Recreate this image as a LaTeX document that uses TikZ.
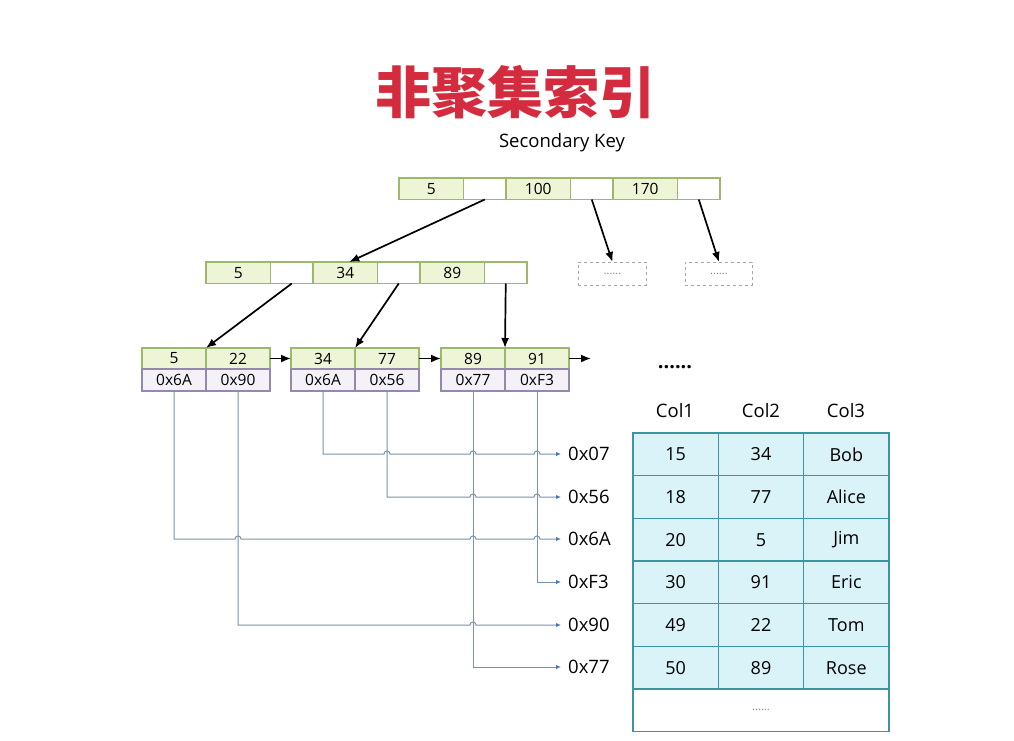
\documentclass[tikz,border=0pt]{standalone}
\usepackage{fontspec}
\setmainfont{Open Sans}
\newfontfamily\cjk{Noto Sans CJK SC}
\usetikzlibrary{arrows.meta,calc}
\definecolor{keyfill}{HTML}{EEF5D6}
\definecolor{keyline}{HTML}{9DB86A}
\definecolor{ptrfill}{HTML}{F4F1F8}
\definecolor{ptrline}{HTML}{9488AC}
\definecolor{wirec}{HTML}{7A93A8}
\definecolor{wtip}{HTML}{3B7CC4}
\definecolor{tfill}{HTML}{D9F3F8}
\definecolor{tline}{HTML}{3C95A3}
\definecolor{titlered}{HTML}{D42B3E}
\newcommand\hop[2]{-- ([xshift=-3pt]#1.south |- #2.west) .. controls +(0,-4) and +(0,-4) .. ([xshift=3pt]#1.south |- #2.west)}
\begin{document}
\begin{tikzpicture}[x=1pt,y=-1pt,
  cell/.style={draw, line width=1.1pt, inner sep=0pt, outer sep=0pt, anchor=north west, minimum height=21.5pt, font=\fontsize{15.5}{15.5}\selectfont},
  key/.style={cell, draw=keyline, fill=keyfill, minimum width=64.5pt},
  gap/.style={cell, draw=keyline, fill=white, minimum width=42.5pt},
  lkey/.style={cell, draw=keyline, fill=keyfill, minimum width=64pt, minimum height=21pt},
  lptr/.style={cell, draw=ptrline, fill=ptrfill, minimum width=64pt, minimum height=22pt},
  dbox/.style={draw=gray!70, dashed, line width=0.9pt, inner sep=0pt, anchor=north west, minimum height=23pt, text=gray, font=\fontsize{11}{11}\selectfont},
  tarrow/.style={-{Latex[length=10pt,width=8pt]}, line width=1.7pt},
  wire/.style={draw=wirec, line width=1pt, -{Latex[length=5pt,width=4.5pt,color=wtip]}, shorten >=7pt},
  addr/.style={anchor=west, inner sep=0pt, font=\fontsize{18.5}{18.5}\selectfont},
  tcell/.style={draw=tline, fill=tfill, line width=1.1pt, minimum width=85.33pt, minimum height=42.67pt, inner sep=0pt, outer sep=0pt, anchor=north west, font=\fontsize{18}{18}\selectfont},
  hdr/.style={font=\fontsize{18.5}{18.5}\selectfont}
]
\useasboundingbox (0,0) rectangle (1014,741);

% title
\node[font=\cjk\bfseries\fontsize{56}{56}\selectfont, text=titlered] (title) at (515,92) {非聚集索引};
\node[font=\fontsize{18.5}{18.5}\selectfont] (sk) at (562,143) {Secondary Key};

% root
\node[key] (r1) at (399,178) {5};
\node[gap] (r2) at (r1.north east) {};
\node[key] (r3) at (r2.north east) {100};
\node[gap] (r4) at (r3.north east) {};
\node[key] (r5) at (r4.north east) {170};
\node[gap] (r6) at (r5.north east) {};

% second level
\node[key] (s1) at (206,262) {5};
\node[gap] (s2) at (s1.north east) {};
\node[key] (s3) at (s2.north east) {34};
\node[gap] (s4) at (s3.north east) {};
\node[key] (s5) at (s4.north east) {89};
\node[gap] (s6) at (s5.north east) {};
\node[dbox, minimum width=68pt] (d1) at (578,262) {......};
\node[dbox, minimum width=67pt] (d2) at (685,262) {......};

% leaves
\node[lkey] (l1a) at (142,348) {5};
\node[lkey] (l1b) at (l1a.north east) {22};
\node[lptr] (l1c) at (l1a.south west) {0x6A};
\node[lptr] (l1d) at (l1b.south west) {0x90};
\node[lkey] (l2a) at (291,348) {34};
\node[lkey] (l2b) at (l2a.north east) {77};
\node[lptr] (l2c) at (l2a.south west) {0x6A};
\node[lptr] (l2d) at (l2b.south west) {0x56};
\node[lkey] (l3a) at (441,348) {89};
\node[lkey] (l3b) at (l3a.north east) {91};
\node[lptr] (l3c) at (l3a.south west) {0x77};
\node[lptr] (l3d) at (l3b.south west) {0xF3};
\coordinate (l3end) at ([xshift=22pt]l3b.east);
\node[font=\fontsize{20}{20}\selectfont\bfseries] (more) at (675,367) {......};

% tree arrows
\draw[tarrow] (r2.south) -- ([xshift=4pt]s3.north);
\draw[tarrow] (r4.south) -- (d1.north);
\draw[tarrow] (r6.south) -- (d2.north);
\draw[tarrow] (s2.south) -- (l1a.north east);
\draw[tarrow] (s4.south) -- (l2a.north east);
\draw[tarrow] (s6.south) -- (l3a.north east);
\draw[tarrow] (l1b.east) -- (l2a.west);
\draw[tarrow] (l2b.east) -- (l3a.west);
\draw[tarrow] (l3b.east) -- (l3end);

% address labels
\node[addr] (t1) at (568,454) {0x07};
\node[addr] (t2) at (568,497) {0x56};
\node[addr] (t3) at (568,539) {0x6A};
\node[addr] (t4) at (568,582) {0xF3};
\node[addr] (t5) at (568,625) {0x90};
\node[addr] (t6) at (568,667) {0x77};

% wires
\draw[wire] (l2c.south) -- (l2c.south |- t1.west) \hop{l2d}{t1} \hop{l3c}{t1} \hop{l3d}{t1} -- (t1.west);
\draw[wire] (l2d.south) -- (l2d.south |- t2.west) \hop{l3c}{t2} \hop{l3d}{t2} -- (t2.west);
\draw[wire] (l1c.south) -- (l1c.south |- t3.west) \hop{l1d}{t3} \hop{l3c}{t3} \hop{l3d}{t3} -- (t3.west);
\draw[wire] (l3d.south) -- (l3d.south |- t4.west) -- (t4.west);
\draw[wire] (l1d.south) -- (l1d.south |- t5.west) \hop{l3c}{t5} -- (t5.west);
\draw[wire] (l3c.south) -- (l3c.south |- t6.west) -- (t6.west);

% table
\node[hdr] (h1) at (675,411) {Col1};
\node[hdr] (h2) at (761,411) {Col2};
\node[hdr] (h3) at (846,411) {Col3};
\foreach \a/\b/\c [count=\i] in {15/34/Bob,18/77/Alice,20/5/Jim,30/91/Eric,49/22/Tom,50/89/Rose}{
  \node[tcell] (c\i a) at (633,{433+42.67*(\i-1)}) {\a};
  \node[tcell] (c\i b) at (c\i a.north east) {\b};
  \node[tcell] (c\i c) at (c\i b.north east) {\c};
}
\node[tcell, fill=white, minimum width=256pt, font=\fontsize{11}{11}\selectfont, text=gray] (cend) at (633,689) {......};
\end{tikzpicture}
\end{document}
